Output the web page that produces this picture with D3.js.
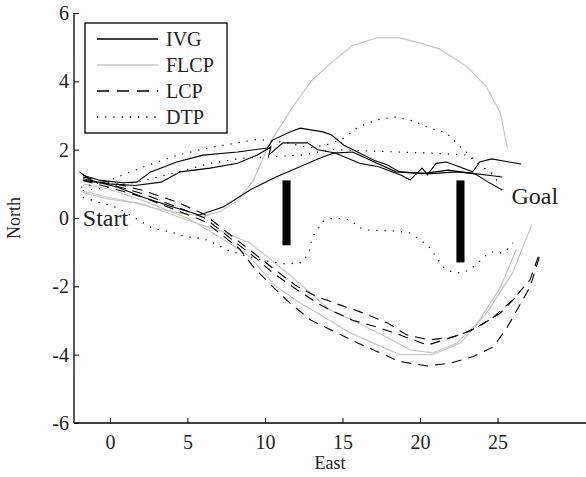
<!DOCTYPE html>
<html><head><meta charset="utf-8">
<script src="https://cdn.jsdelivr.net/npm/d3@7"></script>
<style>body{margin:0;background:#fff}svg{display:block}text{font-family:"Liberation Serif","Times New Roman",serif;fill:#222}</style>
</head><body><svg id="c" width="586" height="477"></svg>
<script>
const xTicks=[0,5,10,15,20,25];
const yTicks=[-6,-4,-2,0,2,4,6];
const legendLabels=["IVG","FLCP","LCP","DTP"];
const ivg1=[[-1.75,1.25],[-0.63,1.1],[0.83,1.03],[1.73,1.05],[2.63,1.35],[4.31,1.64],[6.0,1.84],[8.24,1.93],[10.15,2.05],[10.49,2.28],[11.61,2.52],[12.28,2.63],[13.74,2.52],[14.30,2.43],[15.09,2.13],[17.00,1.7],[17.90,1.55],[18.68,1.35],[20.14,1.3],[21.82,1.4],[23.51,1.3],[24.41,1.05],[25.31,0.82]];
const ivg2=[[-1.75,1.1],[-0.07,1.0],[1.62,0.95],[3.30,1.05],[4.54,1.35],[6.45,1.46],[8.24,1.6],[9.48,1.84],[10.38,2.08],[10.26,1.85],[11.16,2.2],[12.73,2.2],[13.41,2.0],[14.53,1.9],[16.10,1.6],[17.34,1.5],[18.79,1.25],[19.36,1.11],[20.14,1.46],[20.48,1.26],[21.04,1.6],[21.71,1.64],[23.40,1.35],[23.85,1.64],[24.63,1.73],[25.75,1.64],[26.54,1.58]];
const ivg3=[[-1.97,1.35],[-1.19,1.1],[0.50,0.9],[2.18,0.6],[3.86,0.35],[5.77,0.09],[7.34,0.33],[9.03,0.82],[10.71,1.2],[12.51,1.55],[13.52,1.75],[14.42,1.9],[15.65,1.93],[16.77,1.7],[18.46,1.35],[20.70,1.3],[22.39,1.35],[23.51,1.3],[24.41,1.25],[25.31,1.2]];
const flcp1=[[-1.75,0.75],[-0.07,0.55],[1.62,0.45],[2.74,0.3],[4.43,0.15],[6.11,0.05],[7.12,0.2],[8.24,0.5],[9.25,1.1],[10.32,2.2],[11.72,3.2],[12.96,4.0],[14.42,4.6],[15.65,5.05],[17.22,5.27],[18.68,5.27],[20.03,5.12],[21.26,4.95],[23.06,4.42],[24.30,3.83],[25.19,3.07],[25.64,2.05]];
const flcp2=[[-1.86,0.8],[-0.07,0.6],[2.18,0.4],[4.99,-0.06],[7.23,-0.4],[9.03,-0.73],[11.61,-1.67],[14.19,-2.69],[15.65,-3.0],[17.90,-3.5],[19.36,-3.86],[20.82,-3.95],[22.39,-3.66],[23.85,-2.99],[25.19,-2.02],[26.20,-0.94]];
const flcp3=[[-1.75,1.0],[-0.07,0.85],[2.18,0.5],[4.99,0],[7.23,-0.6],[8.92,-1.1],[10.71,-2.0],[12.28,-2.49],[14.19,-3.0],[15.54,-3.37],[18.68,-4.0],[20.82,-4.0],[22.61,-3.66],[24.30,-2.78],[25.98,-1.6],[27.21,-0.2]];
const lcp1=[[-1.75,1.1],[-0.07,0.9],[2.18,0.6],[4.43,0.2],[6.11,-0.1],[7.23,-0.5],[8.35,-0.9],[9.25,-1.43],[10.38,-1.96],[11.61,-2.49],[12.96,-2.99],[15.99,-3.66],[17.45,-3.95],[18.68,-4.2],[20.48,-4.33],[21.94,-4.25],[23.40,-4.06],[24.74,-3.77],[25.64,-3.19],[27.10,-2.02],[27.78,-1.03]];
const lcp2=[[-1.75,1.15],[-0.07,1.0],[2.18,0.7],[4.43,0.3],[6.11,0],[7.23,-0.4],[8.35,-0.8],[9.48,-1.2],[10.49,-1.6],[12.06,-2.1],[13.41,-2.5],[14.19,-2.69],[15.65,-2.99],[17.22,-3.19],[18.68,-3.42],[20.48,-3.72],[21.94,-3.51],[23.40,-3.28],[24.74,-2.9],[25.98,-2.4],[27.10,-1.81],[27.78,-0.94]];
const lcp3=[[-1.75,1.2],[-0.07,1.05],[2.18,0.8],[4.43,0.45],[6.11,0.1],[7.23,-0.3],[8.35,-0.7],[9.48,-1.1],[10.60,-1.5],[12.06,-2.0],[13.41,-2.31],[14.87,-2.55],[16.33,-2.78],[17.90,-3.07],[19.13,-3.42],[20.59,-3.57],[22.16,-3.48],[23.62,-3.22],[25.19,-2.78],[26.20,-2.31]];
const dtp1=[[-1.86,0.9],[-0.07,1.1],[2.18,1.5],[4.43,1.85],[6.67,2.08],[9.48,2.3],[11.50,2.2],[12.85,2.05],[13.97,2.14],[15.09,2.34],[15.99,2.66],[17.22,2.87],[18.35,2.96],[19.58,2.84],[20.59,2.63],[21.71,2.49],[22.61,2.08],[23.06,1.9],[23.85,1.55],[24.52,1.35],[25.19,0.97]];
const dtp2=[[-1.75,0.8],[-0.07,0.9],[2.18,1.1],[4.43,1.35],[6.45,1.6],[8.58,1.75],[12.28,1.84],[14.42,2.0],[18.68,1.93],[20.82,1.9],[23.06,1.84],[24.30,1.4],[25.19,1.2]];
const dtp3=[[-1.75,0.6],[-0.63,0.45],[0.50,0.3],[1.62,0],[2.74,-0.3],[3.86,-0.4],[4.87,-0.55],[6.0,-0.6],[6.67,-0.73],[7.57,-0.94],[8.69,-1.1],[10.04,-1.25],[11.39,-1.35],[12.40,-1.3],[12.85,-1.0],[13.07,-0.55],[13.74,-0.1],[14.42,0],[15.54,-0.06],[15.99,-0.26],[16.55,-0.35],[18.46,-0.38],[19.36,-0.44],[20.48,-0.79],[20.82,-0.99],[21.49,-1.43],[22.05,-1.58],[22.72,-1.61],[23.17,-1.52],[23.62,-1.37],[24.07,-1.17],[24.52,-0.99],[25.19,-1.02],[25.53,-0.97],[25.98,-0.73]];
const obstacleX=[11.39,22.61];
const obstacleY0=[-0.8,-1.3];
const obstacleY1=[1.1,1.1];
const annotations=[{t:"Start",x:-1.75,y:0},{t:"Goal",x:25.9,y:0.65}];

const svg=d3.select("#c");
const x=d3.scaleLinear().domain([-2.32,30.71]).range([74,586]);
const y=d3.scaleLinear().domain([-6,6]).range([423,13]);
const line=d3.line().x(d=>x(d[0])).y(d=>y(d[1]));

const styles={
 IVG:{stroke:"#000",dash:null,w:1.1},
 FLCP:{stroke:"#c9c9c1",dash:null,w:1.2},
 LCP:{stroke:"#000",dash:"10,7",w:1.1},
 DTP:{stroke:"#000",dash:"1.2,7",w:1.2}
};
const series=[["FLCP",flcp1],["FLCP",flcp2],["FLCP",flcp3],["DTP",dtp1],["DTP",dtp2],["DTP",dtp3],["LCP",lcp1],["LCP",lcp2],["LCP",lcp3],["IVG",ivg1],["IVG",ivg2],["IVG",ivg3]];
const g=svg.append("g");
series.forEach(([k,d])=>{
 const s=styles[k];
 g.append("path").attr("d",line(d)).attr("fill","none").attr("stroke",s.stroke).attr("stroke-width",s.w).attr("stroke-dasharray",s.dash);
});
const halfW=0.26;
obstacleX.forEach((ox,i)=>{
 svg.append("rect").attr("x",x(ox-halfW)).attr("width",x(ox+halfW)-x(ox-halfW))
  .attr("y",y(obstacleY1[i])).attr("height",y(obstacleY0[i])-y(obstacleY1[i])).attr("fill","#000");
});
const xa=d3.axisBottom(x).tickValues(xTicks).tickSizeInner(-5).tickSizeOuter(0).tickPadding(12);
const ya=d3.axisLeft(y).tickValues(yTicks).tickSizeInner(-5).tickSizeOuter(0).tickPadding(5).tickFormat(d=>String(d));
const gx=svg.append("g").attr("transform","translate(0,423)").call(xa);
const gy=svg.append("g").attr("transform","translate(74,0)").call(ya);
[gx,gy].forEach(a=>{a.select(".domain").attr("stroke","#000").attr("stroke-width",1.3);a.selectAll(".tick line").attr("stroke","#000");a.selectAll("text").attr("font-size",20).attr("fill","#222").attr("font-family","Liberation Serif, serif");});
gx.select(".domain").attr("d","M74,0H586");
gy.select(".domain").attr("d","M0,13V423");
svg.append("text").attr("x",330).attr("y",469).attr("text-anchor","middle").attr("font-size",18).text("East");
svg.append("text").attr("transform","translate(20,218) rotate(-90)").attr("text-anchor","middle").attr("font-size",18).text("North");
annotations.forEach(a=>svg.append("text").attr("x",x(a.x)).attr("y",y(a.y)).attr("dy","0.35em").attr("font-size",24).text(a.t));
const lg=svg.append("g");
lg.append("rect").attr("x",85).attr("y",23).attr("width",142).attr("height",110).attr("fill","#fff").attr("stroke","#000").attr("stroke-width",1.3);
legendLabels.forEach((k,i)=>{
 const ly=39+i*26;
 const s=styles[k];
 lg.append("line").attr("x1",97).attr("x2",158).attr("y1",ly).attr("y2",ly).attr("stroke",s.stroke).attr("stroke-width",s.w+0.2).attr("stroke-dasharray",k==="LCP"?"12,8":s.dash);
 lg.append("text").attr("x",166).attr("y",ly).attr("dy","0.35em").attr("font-size",20).text(k);
});
</script></body></html>
